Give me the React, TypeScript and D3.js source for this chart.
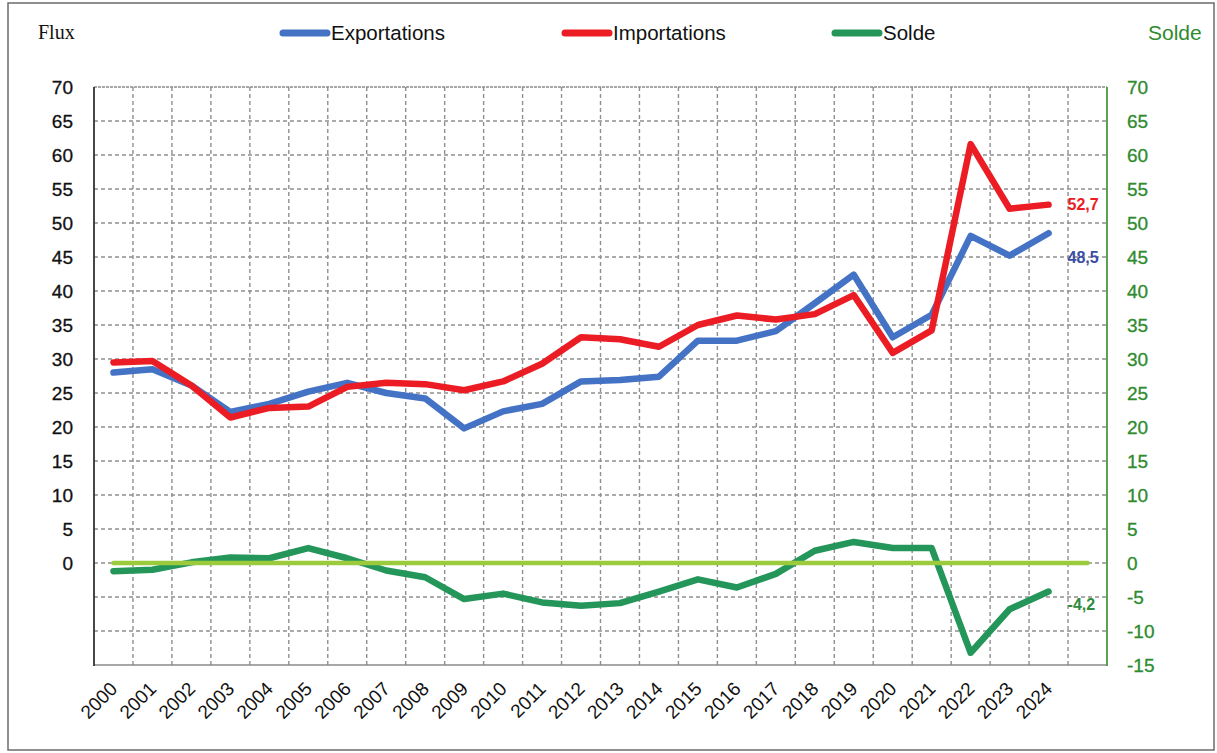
import React from 'react';
import { select, scaleLinear, line, range } from 'd3';

const years = [
  '2000', '2001', '2002', '2003', '2004', '2005', '2006', '2007', '2008',
  '2009', '2010', '2011', '2012', '2013', '2014', '2015', '2016', '2017',
  '2018', '2019', '2020', '2021', '2022', '2023', '2024',
];

const exportations = [
  28.0, 28.5, 26.1, 22.2, 23.4, 25.2, 26.5, 25.0, 24.2, 19.8, 22.3, 23.4,
  26.7, 26.9, 27.4, 32.7, 32.7, 34.1, 38.2, 42.4, 33.2, 36.5, 48.1, 45.2, 48.5,
];

const importations = [
  29.5, 29.7, 26.1, 21.4, 22.8, 23.0, 25.9, 26.5, 26.3, 25.4, 26.7, 29.3,
  33.2, 32.9, 31.8, 35.0, 36.4, 35.8, 36.6, 39.4, 30.9, 34.2, 61.6, 52.1, 52.7,
];

const solde = [
  -1.2, -1.0, 0.1, 0.8, 0.7, 2.2, 0.7, -1.1, -2.1, -5.3, -4.5, -5.8, -6.3,
  -5.9, -4.2, -2.4, -3.6, -1.6, 1.8, 3.1, 2.2, 2.2, -13.2, -6.8, -4.2,
];

// horizontal reference line, one extra slot past 2024
const zeroLine = new Array(26).fill(0);

const leftTicks = [0, 5, 10, 15, 20, 25, 30, 35, 40, 45, 50, 55, 60, 65, 70];
const rightTicks = [-15, -10, -5, 0, 5, 10, 15, 20, 25, 30, 35, 40, 45, 50, 55, 60, 65, 70];
const gridTicks = [-10, -5, 0, 5, 10, 15, 20, 25, 30, 35, 40, 45, 50, 55, 60, 65];

const lastLabels = ['52,7', '48,5', '-4,2'];

const BLUE = '#4472C4';
const RED = '#EC1C24';
const GREEN = '#24965A';
const LIGHT = '#9BCB3C';
const AXIS_GREEN = '#2E8B2E';
const FONT = 'Liberation Sans, Arial, sans-serif';

export default function App() {
  const svgRef = React.useRef(null);

  React.useEffect(() => {
    const svg = select(svgRef.current);
    svg.selectAll('*').remove();

    const left = 94;
    const right = 1107;
    const top = 87;
    const bottom = 665;

    const x = scaleLinear().domain([0, 26]).range([left, right]);
    const y = scaleLinear().domain([-15, 70]).range([bottom, top]);
    const cx = (i: number) => x(i + 0.5);

    // outer frame
    svg
      .append('rect')
      .attr('x', 8)
      .attr('y', 3)
      .attr('width', 1206)
      .attr('height', 747)
      .attr('fill', 'none')
      .attr('stroke', '#6b6b6b')
      .attr('stroke-width', 1.5);

    // grid
    const grid = svg.append('g');
    grid
      .selectAll('.h')
      .data(gridTicks)
      .join('line')
      .attr('x1', left)
      .attr('x2', right)
      .attr('y1', (d) => y(d))
      .attr('y2', (d) => y(d))
      .attr('stroke', '#8f8f8f')
      .attr('stroke-width', 1.4)
      .attr('stroke-dasharray', '4,3');
    grid
      .selectAll('.v')
      .data(range(1, 26))
      .join('line')
      .attr('x1', (d) => x(d))
      .attr('x2', (d) => x(d))
      .attr('y1', top)
      .attr('y2', bottom)
      .attr('stroke', '#8f8f8f')
      .attr('stroke-width', 1.4)
      .attr('stroke-dasharray', '4,3');

    // top / bottom borders
    [top, bottom].forEach((yy) => {
      svg
        .append('line')
        .attr('x1', left)
        .attr('x2', right)
        .attr('y1', yy)
        .attr('y2', yy)
        .attr('stroke', '#8a8a8a')
        .attr('stroke-width', 1.5)
        .attr('stroke-dasharray', yy === top ? '3,1' : null);
    });

    // axes
    svg
      .append('line')
      .attr('x1', left)
      .attr('x2', left)
      .attr('y1', top)
      .attr('y2', bottom + 1)
      .attr('stroke', '#333')
      .attr('stroke-width', 1.8);
    svg
      .append('line')
      .attr('x1', right)
      .attr('x2', right)
      .attr('y1', top)
      .attr('y2', bottom + 1)
      .attr('stroke', '#4c9a3c')
      .attr('stroke-width', 1.8);

    svg
      .append('g')
      .selectAll('text')
      .data(leftTicks)
      .join('text')
      .attr('x', 73)
      .attr('y', (d) => y(d))
      .attr('dy', '0.35em')
      .attr('text-anchor', 'end')
      .attr('font-family', FONT)
      .attr('font-size', 19)
      .attr('fill', '#111')
      .attr('stroke', '#111')
      .attr('stroke-width', 0.3)
      .text((d) => d);

    svg
      .append('g')
      .selectAll('text')
      .data(rightTicks)
      .join('text')
      .attr('x', 1127)
      .attr('y', (d) => y(d))
      .attr('dy', '0.35em')
      .attr('font-family', FONT)
      .attr('font-size', 19)
      .attr('fill', AXIS_GREEN)
      .attr('stroke', AXIS_GREEN)
      .attr('stroke-width', 0.3)
      .text((d) => d);

    svg
      .append('g')
      .selectAll('text')
      .data(years)
      .join('text')
      .attr('transform', (d, i) => `translate(${cx(i) + 5},${bottom + 25}) rotate(-45)`)
      .attr('text-anchor', 'end')
      .attr('font-family', FONT)
      .attr('font-size', 19)
      .attr('fill', '#111')
      .text((d) => d);

    // series
    const mk = line<number>()
      .x((d, i) => cx(i))
      .y((d) => y(d));

    const series: Array<[number[], string, number]> = [
      [exportations, BLUE, 6.5],
      [importations, RED, 6.5],
      [solde, GREEN, 6.5],
      [zeroLine, LIGHT, 4.5],
    ];
    series.forEach(([vals, color, w]) => {
      svg
        .append('path')
        .datum(vals)
        .attr('d', mk)
        .attr('fill', 'none')
        .attr('stroke', color)
        .attr('stroke-width', w)
        .attr('stroke-linejoin', 'round')
        .attr('stroke-linecap', 'round');
    });

    // end labels
    const last = years.length - 1;
    const ends: Array<[string, number, string, number]> = [
      [lastLabels[0], importations[last], RED, 0],
      [lastLabels[1], exportations[last], '#3A4EA6', 24],
      [lastLabels[2], solde[last], '#2E8B3E', 13],
    ];
    ends.forEach(([txt, v, color, off]) => {
      svg
        .append('text')
        .attr('x', cx(last) + 19)
        .attr('y', y(v) + off)
        .attr('dy', '0.35em')
        .attr('font-family', FONT)
        .attr('font-size', 16)
        .attr('font-weight', 'bold')
        .attr('fill', color)
        .text(txt);
    });

    // legend
    svg
      .append('text')
      .attr('x', 38)
      .attr('y', 39)
      .attr('font-family', 'Liberation Serif, Times New Roman, serif')
      .attr('font-size', 20)
      .attr('fill', '#111')
      .text('Flux');

    const legend: Array<[string, string, number]> = [
      ['Exportations', BLUE, 283],
      ['Importations', RED, 565],
      ['Solde', GREEN, 835],
    ];
    legend.forEach(([name, color, lx]) => {
      svg
        .append('line')
        .attr('x1', lx)
        .attr('x2', lx + 44)
        .attr('y1', 33)
        .attr('y2', 33)
        .attr('stroke', color)
        .attr('stroke-width', 7)
        .attr('stroke-linecap', 'round');
      svg
        .append('text')
        .attr('x', lx + 48)
        .attr('y', 33)
        .attr('dy', '0.35em')
        .attr('font-family', FONT)
        .attr('font-size', 20.5)
        .attr('fill', '#111')
        .text(name);
    });

    svg
      .append('text')
      .attr('x', 1148)
      .attr('y', 33)
      .attr('dy', '0.35em')
      .attr('font-family', FONT)
      .attr('font-size', 21)
      .attr('fill', AXIS_GREEN)
      .text('Solde');
  }, []);

  return (
    <svg
      ref={svgRef}
      width={1217}
      height={753}
      style={{ position: 'absolute', left: 0, top: 0, background: '#fff' }}
    />
  );
}
